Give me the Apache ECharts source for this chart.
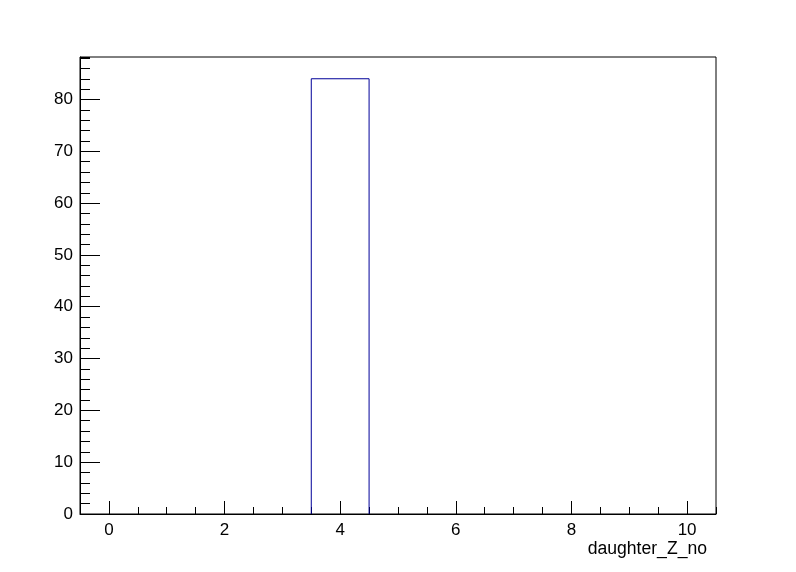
<!DOCTYPE html>
<html>
<head>
<meta charset="utf-8">
<script src="https://cdn.jsdelivr.net/npm/echarts@6/dist/echarts.min.js"></script>
<style>html,body{margin:0;padding:0;background:#fff}#c{width:796px;height:572px}</style>
</head>
<body>
<div id="c"></div>
<script>
// Histogram bins (centers) and counts
var binCenters = [0, 1, 2, 3, 4, 5, 6, 7, 8, 9, 10];
var binCounts = [0, 0, 0, 0, 84, 0, 0, 0, 0, 0, 0];
var xTickLabels = ['0', '1', '2', '3', '4', '5', '6', '7', '8', '9', '10'];
var xTitle = 'daughter_Z_no';
var yMax = 88.2;

var chart = echarts.init(document.getElementById('c'), null, {renderer: 'canvas'});
var FONT = 'Liberation Sans, Arial, Helvetica, sans-serif';
var data = binCenters.map(function (c, i) { return [c, binCounts[i]]; });

chart.setOption({
  animation: false,
  backgroundColor: '#ffffff',
  title: {
    text: xTitle, right: 84, top: 535,
    textStyle: {fontFamily: FONT, fontSize: 17.6, fontWeight: 'normal', color: '#000'}
  },
  grid: {left: 80, right: 80, top: 57, bottom: 58, show: true, borderColor: '#000', borderWidth: 1, backgroundColor: 'transparent'},
  xAxis: [
    {
      type: 'value', min: -0.5, max: 10.5, interval: 0.5, position: 'bottom',
      axisLine: {show: true, onZero: false, lineStyle: {color: '#000', width: 1}},
      axisTick: {show: true, inside: true, length: 7, lineStyle: {color: '#000'}},
      axisLabel: {show: false}, splitLine: {show: false}
    },
    {
      type: 'category', data: xTickLabels, position: 'bottom', offset: 0, boundaryGap: true,
      axisLine: {show: false, onZero: false},
      axisTick: {show: true, inside: true, length: 13, alignWithLabel: true, interval: 1, lineStyle: {color: '#000'}},
      axisLabel: {show: true, interval: 1, margin: 8, color: '#000', fontFamily: FONT, fontSize: 17},
      splitLine: {show: false}
    }
  ],
  yAxis: [
    {
      type: 'value', min: 0, max: yMax, interval: 2, position: 'left',
      axisLine: {show: true, onZero: false, lineStyle: {color: '#000', width: 1}},
      axisTick: {show: true, inside: true, length: 10, lineStyle: {color: '#000'}},
      axisLabel: {show: false}, splitLine: {show: false}
    },
    {
      type: 'value', min: 0, max: yMax, interval: 10, position: 'left', offset: 0,
      axisLine: {show: false, onZero: false},
      axisTick: {show: true, inside: true, length: 20, lineStyle: {color: '#000'}},
      axisLabel: {show: true, showMaxLabel: false, margin: 7, color: '#000', fontFamily: FONT, fontSize: 17},
      splitLine: {show: false}
    }
  ],
  series: [{
    type: 'custom',
    xAxisIndex: 0, yAxisIndex: 0,
    data: data,
    z: 1,
    renderItem: function (params, api) {
      var c = api.value(0), v = api.value(1);
      if (!v) return null;
      var p0 = api.coord([c - 0.5, 0]);
      var p1 = api.coord([c - 0.5, v]);
      var p2 = api.coord([c + 0.5, v]);
      var p3 = api.coord([c + 0.5, 0]);
      return {
        type: 'polyline',
        shape: {points: [p0, p1, p2, p3]},
        style: {stroke: '#000099', lineWidth: 1, fill: null}
      };
    }
  }]
});
</script>
</body>
</html>
